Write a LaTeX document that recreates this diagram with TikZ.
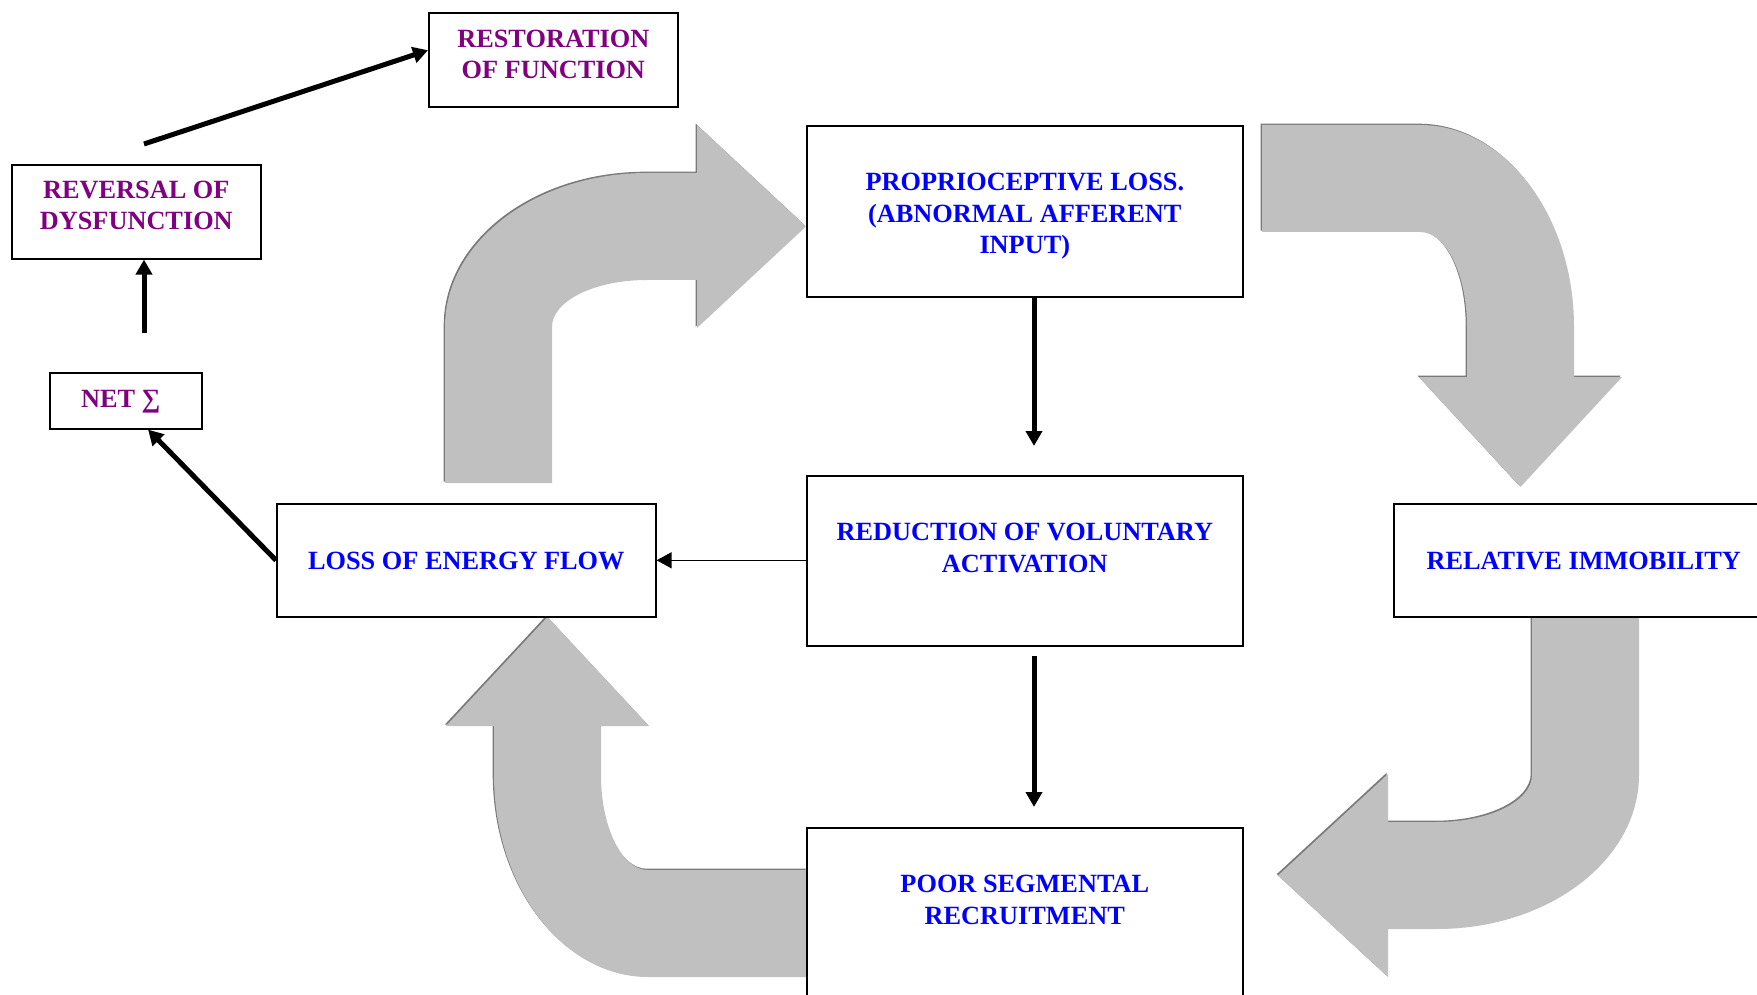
\documentclass[tikz,border=0pt]{standalone}
\usepackage{fontspec}
\setmainfont{Liberation Serif}
\usetikzlibrary{arrows.meta,calc}

\definecolor{cycleblue}{HTML}{0000FF}
\definecolor{outcomepurple}{HTML}{800080}
\definecolor{bandgray}{HTML}{C0C0C0}
\definecolor{bandshade}{HTML}{7A7A7A}

% box contents: width, height, baseline of the first line (all in pt), text
\newcommand{\boxtext}[4]{\parbox[c][#2pt][t]{#1pt}{\centering\rule{0pt}{#3pt}#4\par}}

% the four broad bent arrows of the cycle
\def\bandNW{(445,483) -- (445,327) .. controls (445,242) and (535,173) .. (647,173)
  -- (697,173) -- (697,125) -- (806,226.5) -- (697,328) -- (697,280) -- (647,280)
  .. controls (594.5,280) and (552,301) .. (552,327) -- (552,483) -- cycle}
\def\bandNE{(1262,125) -- (1420,125) .. controls (1505,125) and (1574,215.4) .. (1574,327)
  -- (1574,377) -- (1622,377) -- (1520.5,487) -- (1419,377) -- (1467,377) -- (1467,327)
  .. controls (1467,274.5) and (1446,232) .. (1420,232) -- (1262,232) -- cycle}
\def\bandSE{(1532,616) -- (1532,775) .. controls (1532,801) and (1489.5,822) .. (1437,822)
  -- (1388,822) -- (1388,774) -- (1278,875.5) -- (1388,977) -- (1388,929) -- (1437,929)
  .. controls (1548.6,929) and (1639,860) .. (1639,775) -- (1639,616) -- cycle}
\def\bandSW{(807,870) -- (648,870) .. controls (622,870) and (601,827.5) .. (601,775)
  -- (601,726) -- (649,726) -- (547.5,617) -- (446,726) -- (494,726) -- (494,775)
  .. controls (494,886.6) and (563,977) .. (648,977) -- (807,977) -- cycle}

\begin{document}
\begin{tikzpicture}[x=1pt,y=-1pt,
  box/.style={draw=black, line width=1.6pt, fill=white, inner sep=0pt, anchor=north west},
  cyc/.style={text=cycleblue, font=\fontsize{26.3}{31.5}\selectfont\bfseries},
  res/.style={text=outcomepurple, font=\fontsize{26.3}{31.5}\selectfont\bfseries},
  link/.style={line width=5pt, -{Triangle[width=16pt,length=15pt]}},
  thinlink/.style={line width=1.5pt, -{Triangle[width=16pt,length=15pt]}},
  band/.style={fill=bandgray},
  bandedge/.style={fill=bandshade, shift={(-1.3,-1.3)}}
]
\useasboundingbox (0,0) rectangle (1757,995);
\clip (0,0) rectangle (1757,995);

% broad arrows, each with a darker edge to the upper left
\foreach \b in {\bandNW,\bandNE,\bandSE,\bandSW}{
  \fill[bandedge] \b;
  \fill[band] \b;
}

% outcome boxes
\node[box, res] (restore) at (428,12) {\boxtext{249}{94}{34.7}{RESTORATION\\OF FUNCTION}};
\node[box, res] (rev) at (11,164) {\boxtext{249}{94}{33.7}{REVERSAL OF\\DYSFUNCTION}};
\node[box, res] (net) at (49,372) {\boxtext{152}{56}{34.7}{NET ∑\hspace*{10pt}}};

% cycle boxes
\node[box, cyc] (prop) at (806,125) {\boxtext{436}{171}{65.2}{PROPRIOCEPTIVE LOSS.\\(ABNORMAL AFFERENT\\INPUT)}};
\node[box, cyc] (red) at (806,475) {\boxtext{436}{170}{64.7}{REDUCTION OF VOLUNTARY\\ACTIVATION}};
\node[box, cyc] (poor) at (806,827) {\boxtext{436}{175}{64.7}{POOR SEGMENTAL\\RECRUITMENT}};
\node[box, cyc] (loss) at (276,503) {\boxtext{379}{113}{65.7}{LOSS OF ENERGY FLOW}};
\node[box, cyc] (immob) at (1393,503) {\boxtext{380}{113}{65.7}{RELATIVE IMMOBILITY}};

% connectors
\coordinate (revtail) at (144,144);
\draw[link] (revtail) -- ($(restore.north west)!0.4!(restore.south west)$);
\coordinate (nettail) at (144,333);
\draw[link] (nettail) -- (nettail |- rev.south);
\draw[link] (loss.west) -- ($(net.south west)!0.645!(net.south east)$);
\coordinate (proptip) at (1034,446);
\draw[link] (prop.south -| proptip) -- (proptip);
\coordinate (redtail) at (1034,656);
\coordinate (redtip) at (1034,807);
\draw[link] (redtail) -- (redtip);
\draw[thinlink] (red.west |- loss.east) -- (loss.east);
\end{tikzpicture}
\end{document}
